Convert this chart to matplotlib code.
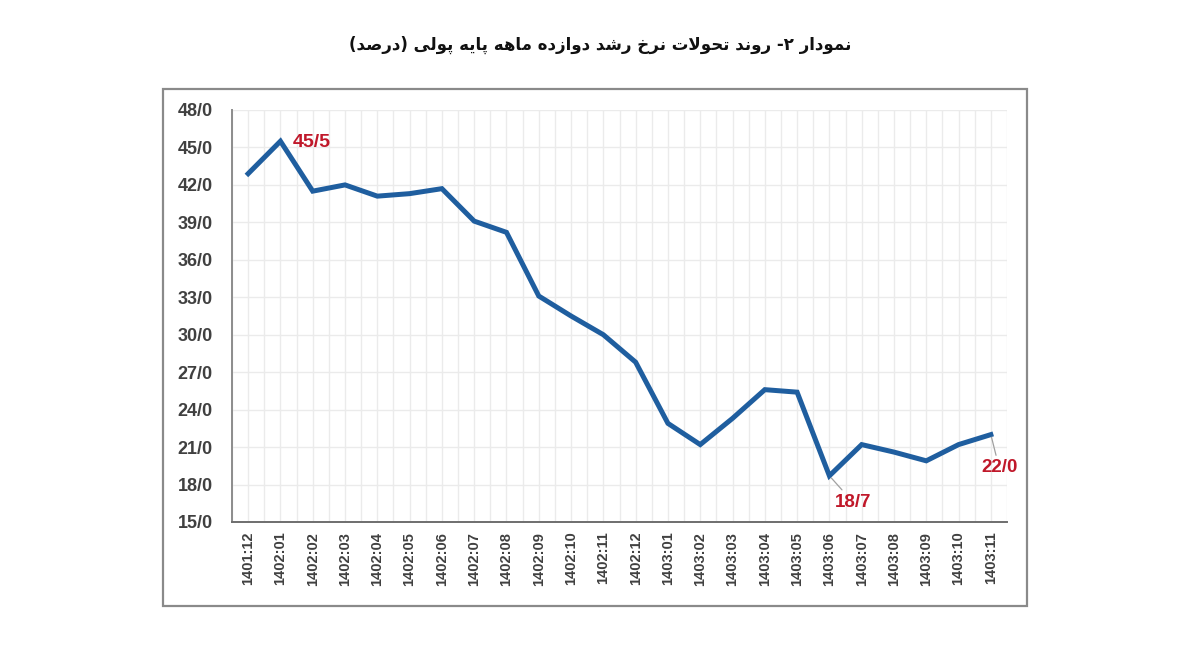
import matplotlib
matplotlib.use("Agg")
import matplotlib.pyplot as plt
from matplotlib.patches import Rectangle

# ---------------- data ----------------
categories = ["1401:12", "1402:01", "1402:02", "1402:03", "1402:04", "1402:05",
              "1402:06", "1402:07", "1402:08", "1402:09", "1402:10", "1402:11",
              "1402:12", "1403:01", "1403:02", "1403:03", "1403:04", "1403:05",
              "1403:06", "1403:07", "1403:08", "1403:09", "1403:10", "1403:11"]
values = [42.9, 45.5, 41.5, 42.0, 41.1, 41.3, 41.7, 39.1, 38.2, 33.1, 31.5, 30.0,
          27.8, 22.9, 21.2, 23.3, 25.6, 25.4, 18.7, 21.2, 20.6, 19.9, 21.2, 22.0]
yticks = [15, 18, 21, 24, 27, 30, 33, 36, 39, 42, 45, 48]
ytick_labels = ["15/0", "18/0", "21/0", "24/0", "27/0", "30/0", "33/0", "36/0",
                "39/0", "42/0", "45/0", "48/0"]
annot_idx = [1, 18, 23]
annot_labels = ["45/5", "18/7", "22/0"]
title = "نمودار ۲- روند تحولات نرخ رشد دوازده ماهه پایه پولی (درصد)"

# ---------------- simple Arabic/Persian shaping ----------------
FORMS = {  # isolated, final, initial, medial
    "\u0627": ("\uFE8D", "\uFE8E", None, None),
    "\u062A": ("\uFE95", "\uFE96", "\uFE97", "\uFE98"),
    "\u062D": ("\uFEA1", "\uFEA2", "\uFEA3", "\uFEA4"),
    "\u062E": ("\uFEA5", "\uFEA6", "\uFEA7", "\uFEA8"),
    "\u062F": ("\uFEA9", "\uFEAA", None, None),
    "\u0631": ("\uFEAD", "\uFEAE", None, None),
    "\u0632": ("\uFEAF", "\uFEB0", None, None),
    "\u0634": ("\uFEB5", "\uFEB6", "\uFEB7", "\uFEB8"),
    "\u0635": ("\uFEB9", "\uFEBA", "\uFEBB", "\uFEBC"),
    "\u0644": ("\uFEDD", "\uFEDE", "\uFEDF", "\uFEE0"),
    "\u0645": ("\uFEE1", "\uFEE2", "\uFEE3", "\uFEE4"),
    "\u0646": ("\uFEE5", "\uFEE6", "\uFEE7", "\uFEE8"),
    "\u0647": ("\uFEE9", "\uFEEA", "\uFEEB", "\uFEEC"),
    "\u0648": ("\uFEED", "\uFEEE", None, None),
    "\u06CC": ("\uFBFC", "\uFBFD", "\uFBFE", "\uFBFF"),
    "\u067E": ("\uFB56", "\uFB57", "\uFB58", "\uFB59"),
}


def dual(c):
    return c in FORMS and FORMS[c][2] is not None


def shape(s):
    out = []
    i = 0
    n = len(s)
    while i < n:
        c = s[i]
        if c not in FORMS:
            out.append(c)
            i += 1
            continue
        prev = s[i - 1] if i > 0 else ""
        jp = dual(prev)
        if c == "\u0644" and i + 1 < n and s[i + 1] == "\u0627":
            out.append("\uFEFC" if jp else "\uFEFB")
            i += 2
            continue
        nxt = s[i + 1] if i + 1 < n else ""
        jn = dual(c) and (nxt in FORMS)
        f = FORMS[c]
        if jp and jn:
            g = f[3]
        elif jp:
            g = f[1]
        elif jn:
            g = f[2]
        else:
            g = f[0]
        out.append(g)
        i += 1
    vis = "".join(out)[::-1]
    vis = vis.translate(str.maketrans({"(": ")", ")": "("}))
    return vis


# ---------------- figure ----------------
fig = plt.figure(figsize=(12, 6.53), dpi=100)
fig.patch.set_facecolor("white")

# outer frame
fig.patches.append(Rectangle((163 / 1200, 1 - 606 / 653), (1027 - 163) / 1200,
                             (606 - 89) / 653, transform=fig.transFigure,
                             fill=False, edgecolor="#8a8a8a", linewidth=1.6))

ax = fig.add_axes([232 / 1200, 1 - 522 / 653, (1007 - 232) / 1200, (522 - 110) / 653])
x = list(range(len(categories)))
ax.plot(x, values, color="#1F5E9F", linewidth=3.6, solid_joinstyle="miter", zorder=3)

ax.set_xlim(-0.5, len(categories) - 0.5)
ax.set_ylim(15, 48)
ax.set_yticks(yticks)
ax.set_yticklabels(ytick_labels)
ax.set_xticks(x)
ax.set_xticklabels(categories, rotation=90)
ax.set_xticks([i + 0.5 for i in range(-1, len(categories))], minor=True)

for lab in ax.get_yticklabels():
    lab.set_fontfamily("Liberation Sans")
    lab.set_fontweight("bold")
    lab.set_fontsize(13)
    lab.set_color("#404040")
for lab in ax.get_xticklabels():
    lab.set_fontfamily("Liberation Sans")
    lab.set_fontweight("bold")
    lab.set_fontsize(10.5)
    lab.set_color("#404040")

ax.tick_params(axis="both", which="both", length=0)
ax.tick_params(axis="y", pad=14)
ax.tick_params(axis="x", pad=7)

ax.grid(True, which="major", axis="both", color="#ebebeb", linewidth=1.0)
ax.grid(True, which="minor", axis="x", color="#ebebeb", linewidth=1.0)
ax.set_axisbelow(True)

for s in ["top", "right"]:
    ax.spines[s].set_visible(False)
ax.spines["left"].set_color("#8c8c8c")
ax.spines["left"].set_linewidth(1.4)
ax.spines["bottom"].set_color("#6e6e6e")
ax.spines["bottom"].set_linewidth(1.4)

red = "#C0182A"
# annotations
i0 = annot_idx[0]
ax.annotate(annot_labels[0], xy=(i0, values[i0]), xytext=(9, -1),
            textcoords="offset points", ha="left", va="center", color=red,
            fontsize=14, fontweight="bold", fontfamily="Liberation Sans")
i1 = annot_idx[1]
ax.annotate(annot_labels[1], xy=(i1, values[i1]), xytext=(17, -19),
            textcoords="offset points", ha="center", va="center", color=red,
            fontsize=13.5, fontweight="bold", fontfamily="Liberation Sans",
            arrowprops=dict(arrowstyle="-", color="#a0a0a0", lw=0.9,
                            shrinkA=1, shrinkB=2))
i2 = annot_idx[2]
ax.annotate(annot_labels[2], xy=(i2, values[i2]), xytext=(6, -24),
            textcoords="offset points", ha="center", va="center", color=red,
            fontsize=13.5, fontweight="bold", fontfamily="Liberation Sans",
            arrowprops=dict(arrowstyle="-", color="#a0a0a0", lw=0.9,
                            shrinkA=1, shrinkB=2))

fig.text(600 / 1200, 1 - 45 / 653, shape(title), ha="center", va="center",
         fontsize=12, fontweight="bold", fontfamily=["DejaVu Sans"], color="#111111")

fig.savefig("out.png", dpi=100, facecolor="white")
